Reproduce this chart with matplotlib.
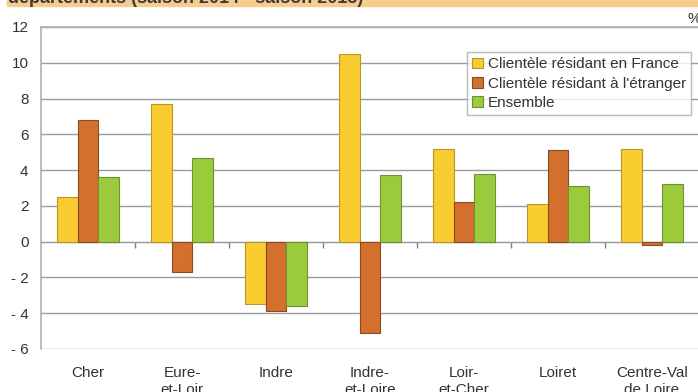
import matplotlib.pyplot as plt
import numpy as np
from matplotlib.patches import Rectangle

plt.rcParams['font.family'] = ['Liberation Sans', 'DejaVu Sans']

categories = ['Cher', 'Eure-\net-Loir', 'Indre', 'Indre-\net-Loire', 'Loir-\net-Cher', 'Loiret', 'Centre-Val\nde Loire']
france = [2.5, 7.7, -3.5, 10.5, 5.2, 2.1, 5.2]
etranger = [6.8, -1.7, -3.9, -5.1, 2.2, 5.1, -0.2]
ensemble = [3.6, 4.7, -3.6, 3.7, 3.8, 3.1, 3.2]
series_names = ['Clientèle résidant en France', "Clientèle résidant à l'étranger", 'Ensemble']
yticks = [12, 10, 8, 6, 4, 2, 0, -2, -4, -6]
ytick_labels = ['12', '10', '8', '6', '4', '2', '0', '- 2', '- 4', '- 6']

colors = ['#F9CD2F', '#D3702E', '#9BCB3D']
edges = ['#B8962A', '#8A4A20', '#6E9230']
txt = '#333333'
grey = '#9C9C9C'

fig = plt.figure(figsize=(6.98, 3.92), dpi=100)
ax = fig.add_axes([41/698, 1-349/392, 658/698, 322/392])

x = np.arange(len(categories))
w = 0.223
for i, vals in enumerate([france, etranger, ensemble]):
    ax.bar(x + (i-1)*w, vals, w, color=colors[i], edgecolor=edges[i], linewidth=0.8,
           label=series_names[i], zorder=3)

ax.set_xlim(-0.5, len(categories)-0.5)
ax.set_ylim(-6, 12)
ax.set_yticks(yticks)
ax.set_yticklabels(ytick_labels)
ax.grid(axis='y', color=grey, linewidth=1, zorder=0)
ax.set_axisbelow(True)
ax.tick_params(axis='y', length=0, pad=9, labelsize=11, labelcolor=txt)
ax.set_xticks(x)
ax.set_xticklabels(categories)
ax.tick_params(axis='x', length=0, pad=12, labelsize=11, labelcolor=txt)
for t in ax.get_xticklabels():
    t.set_linespacing(1.3)

for s in ['right', 'bottom']:
    ax.spines[s].set_visible(False)
for s in ['left', 'top']:
    ax.spines[s].set_color('#B0B0B0')
    ax.spines[s].set_linewidth(1.2)

# zero axis with ticks between categories
sec = ax.secondary_xaxis(6/18)
sec.set_xticks(np.arange(len(categories)-1) + 0.5)
sec.set_xticklabels([])
sec.tick_params(length=4, direction='out', color='#808080', width=1)
sec.spines['bottom'].set_color('#909090')

leg = ax.legend(loc='upper left', bbox_to_anchor=(426/658, (349-52)/322), frameon=True,
                fontsize=11, handlelength=0.7, handleheight=0.7, handletextpad=0.3,
                borderpad=0.35, labelspacing=0.35, fancybox=False, borderaxespad=0)
leg.get_frame().set_edgecolor('#A8A8A8')
leg.get_frame().set_linewidth(1)
for t in leg.get_texts():
    t.set_color(txt)
leg.set_zorder(5)

# title band (cropped)
fig.patches.append(Rectangle((7/698, 1-6/392), 1, 6/392, transform=fig.transFigure,
                             color='#F8CB8F', zorder=0))
fig.text(8/698, 1-3/392, 'départements (saison 2014 - saison 2015)', fontsize=13,
         fontweight='bold', color='#3A3A3A', va='baseline')
fig.text(687/698, 1-19/392, '%', fontsize=11, color=txt, va='center')

fig.savefig('out.png', dpi=100)
